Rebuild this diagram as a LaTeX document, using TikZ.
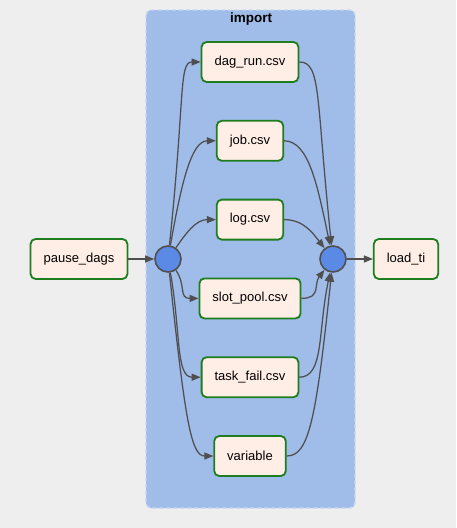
\documentclass[tikz,border=0pt]{standalone}
\usepackage{fontspec}
\setmainfont{Liberation Sans}
\usetikzlibrary{positioning,arrows.meta}

\definecolor{bggray}{HTML}{EEEEEE}
\definecolor{clusterblue}{HTML}{A0BCE9}
\definecolor{clusterline}{HTML}{C9D7F1}
\definecolor{taskfill}{HTML}{FFEEE6}
\definecolor{taskline}{HTML}{1E7D1E}
\definecolor{joinfill}{HTML}{5B8AE6}
\definecolor{joinline}{HTML}{505050}
\definecolor{edgegray}{HTML}{4F4F4F}

\tikzstyle{taskNode} = [rectangle, rounded corners=5pt, minimum height=40pt, inner xsep=13pt, text centered, draw=taskline, line width=1.8pt, fill=taskfill, font=\fontsize{13}{15}\selectfont]
\tikzstyle{joinNode} = [circle, minimum size=26pt, inner sep=0pt, draw=joinline, line width=1.6pt, fill=joinfill]
\tikzstyle{arrow} = [line width=1.25pt, draw=edgegray, ->, >={Triangle[length=9pt,width=7pt]}]

\begin{document}
\begin{tikzpicture}[x=1pt, y=1pt, node distance=78.8pt]
    \useasboundingbox (0,0) rectangle (456,-528);
    \fill[bggray] (0,0) rectangle (456,-528);
    % import group
    \draw[clusterline, fill=clusterblue, dash pattern=on 4pt off 3pt, line width=1.4pt, rounded corners=5pt] (146,-10) rectangle (355,-508);
    \node (importlabel) [font=\bfseries\fontsize{13.5}{15}\selectfont] at (251,-19) {import};

    \node (dagrun)[taskNode] at (250,-62) {dag\_run.csv};
    \node (job)[taskNode, below of=dagrun] {job.csv};
    \node (log)[taskNode, below of=job] {log.csv};
    \node (slotpool)[taskNode, below of=log] {slot\_pool.csv};
    \node (taskfail)[taskNode, below of=slotpool] {task\_fail.csv};
    \node (variable)[taskNode, below of=taskfail] {variable};

    \node (upstream)[joinNode] at (168,-259) {};
    \node (downstream)[joinNode] at (333,-259) {};
    \node (pausedags)[taskNode, left of=upstream, xshift=-10.2pt] {pause\_dags};
    \node (loadti)[taskNode, right of=downstream, xshift=-5.8pt] {load\_ti};

    \draw [arrow] (pausedags) -- (upstream);
    \draw [arrow] (downstream) -- (loadti);

    \draw [arrow] (upstream) to[out=84, in=180, out distance=150pt, in distance=22pt] (dagrun.west);
    \draw [arrow] (upstream) to[out=80, in=180, out distance=60pt, in distance=25pt] (job.west);
    \draw [arrow] (upstream) to[out=55, in=180, out distance=18pt, in distance=20pt] (log.west);
    \draw [arrow] (upstream) to[out=-55, in=180, out distance=18pt, in distance=20pt] (slotpool.west);
    \draw [arrow] (upstream) to[out=-80, in=180, out distance=60pt, in distance=25pt] (taskfail.west);
    \draw [arrow] (upstream) to[out=-84, in=180, out distance=150pt, in distance=22pt] (variable.west);

    \draw [arrow] (dagrun.east) to[out=0, in=96, out distance=22pt, in distance=150pt] (downstream);
    \draw [arrow] (job.east) to[out=0, in=102, out distance=25pt, in distance=60pt] (downstream);
    \draw [arrow] (log.east) to[out=0, in=128, out distance=20pt, in distance=18pt] (downstream);
    \draw [arrow] (slotpool.east) to[out=0, in=-128, out distance=20pt, in distance=18pt] (downstream);
    \draw [arrow] (taskfail.east) to[out=0, in=-102, out distance=25pt, in distance=60pt] (downstream);
    \draw [arrow] (variable.east) to[out=0, in=-96, out distance=22pt, in distance=150pt] (downstream);

\end{tikzpicture}
\end{document}
